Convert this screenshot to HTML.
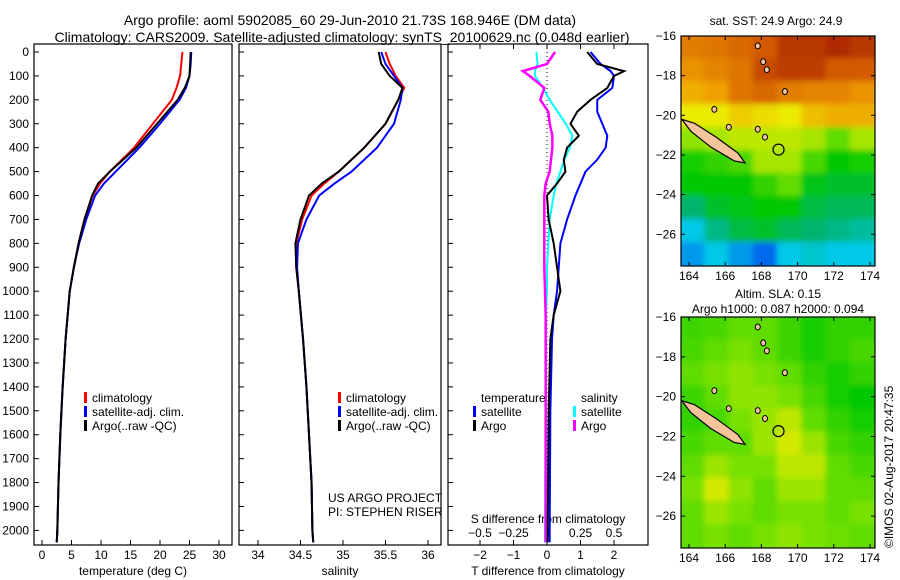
<!DOCTYPE html>
<html><head><meta charset="utf-8"><style>
body{margin:0;background:#fff;}
svg{display:block;font-family:"Liberation Sans",sans-serif;}
text{font-size:12px;fill:#000;}
</style></head><body>
<svg id="chart" width="900" height="580" viewBox="0 0 900 580">
<defs><filter id="bl"><feGaussianBlur stdDeviation="3"/></filter>
<clipPath id="c1"><rect x="681" y="36" width="194" height="230"/></clipPath>
<clipPath id="c2"><rect x="681" y="317" width="194" height="231"/></clipPath></defs>
<text x="350" y="25" text-anchor="middle" style="font-size:14px">Argo profile: aoml 5902085_60 29-Jun-2010 21.73S 168.946E (DM data)</text>
<text x="342" y="42" text-anchor="middle" style="font-size:14px">Climatology: CARS2009. Satellite-adjusted climatology: synTS_20100629.nc (0.048d earlier)</text>
<g id="g"></g>
</svg>
<script>
const depths=[0,50,100,150,200,300,400,500,550,600,700,800,900,1000,1200,1400,1600,1800,2000,2050];
const climT=[23.8,23.6,23.4,22.8,22,18.8,15.6,11.5,9.8,8.6,7.2,6.2,5.4,4.7,4.0,3.5,3.1,2.8,2.6,2.5];
const satT=[25.3,25.2,25,24.4,23.3,20,16.5,12.5,10.5,9,7.5,6.3,5.4,4.7,4.0,3.5,3.1,2.8,2.6,2.5];
const argoT=[25.2,25.1,25,24.2,23,19.5,16,11.5,9.5,8.5,7.2,6.2,5.4,4.7,4.0,3.5,3.1,2.8,2.6,2.5];
const climS=[35.5,35.55,35.62,35.72,35.65,35.5,35.25,34.95,34.78,34.63,34.52,34.45,34.45,34.48,34.53,34.57,34.6,34.63,34.64,34.65];
const satS=[35.45,35.5,35.6,35.7,35.68,35.6,35.4,35.1,34.9,34.72,34.57,34.47,34.46,34.48,34.53,34.57,34.6,34.63,34.64,34.65];
const argoS=[35.42,35.45,35.55,35.7,35.65,35.5,35.25,34.95,34.75,34.6,34.5,34.44,34.45,34.48,34.53,34.57,34.6,34.63,34.64,34.65];
const dDepths=[0,50,80,100,150,200,250,300,350,400,450,500,550,600,700,800,900,1000,1100,1200,1500,2000,2050];
const argoTd=[1.2,1.5,2.3,2.0,1.8,1.3,0.9,0.7,0.95,0.6,0.5,0.55,0.3,0,0.05,0.2,0.3,0.4,0.2,0.1,0.05,0.02,0.02];
const satTd=[1.3,1.6,1.9,2.0,1.95,1.5,1.5,1.65,1.8,1.75,1.5,1.15,1.0,0.85,0.6,0.4,0.35,0.3,0.2,0.15,0.1,0.08,0.08];
const argoSd=[0.06,0.0,-0.18,-0.13,-0.02,-0.05,0.01,0.02,0.04,0.04,0.03,0.02,-0.01,-0.02,-0.02,-0.02,-0.02,-0.015,-0.01,-0.01,-0.01,-0.01,-0.01];
const satSd=[-0.08,-0.07,-0.09,-0.09,-0.03,0.02,0.08,0.14,0.19,0.17,0.13,0.1,0.07,0.05,0.02,0.01,0.0,0.0,-0.01,-0.01,-0.01,-0.015,-0.015];
const tTicks=[0,5,10,15,20,25,30];
const sTicks=[34,34.5,35,35.5,36];
const tdTicks=[-2,-1,0,1,2];
const sdTicks=[-0.5,-0.25,0,0.25,0.5];
const sdLabels=["−0.5","−0.25","0","0.25","0.5"];
const latTicks=[-16,-18,-20,-22,-24,-26];
const lonTicks=[164,166,168,170,172,174];
const sstGrid=[
[.85,.86,.88,.9,.95,.95,.97,.95],
[.82,.84,.86,.92,.94,.94,.9,.9],
[.78,.8,.86,.88,.85,.84,.84,.82],
[.7,.7,.74,.72,.7,.76,.78,.78],
[.62,.64,.66,.66,.66,.64,.58,.64],
[.52,.54,.56,.64,.64,.56,.5,.52],
[.5,.5,.5,.54,.58,.48,.46,.46],
[.4,.46,.48,.5,.5,.44,.42,.42],
[.3,.38,.44,.46,.42,.4,.38,.36],
[.22,.3,.22,.14,.3,.32,.3,.3]];
const slaGrid=[
[.55,.56,.58,.58,.55,.52,.54,.54],
[.56,.58,.6,.58,.55,.52,.54,.56],
[.58,.6,.62,.6,.58,.54,.52,.54],
[.55,.58,.62,.62,.6,.56,.52,.5],
[.54,.56,.6,.63,.66,.58,.54,.52],
[.56,.58,.58,.63,.68,.63,.56,.54],
[.58,.63,.6,.6,.66,.66,.58,.56],
[.6,.68,.62,.58,.63,.63,.58,.58],
[.58,.63,.6,.58,.6,.6,.58,.6],
[.58,.6,.58,.6,.62,.6,.59,.58]];

const NS='http://www.w3.org/2000/svg';const G=document.getElementById('g');
function mk(t,a,p){const e=document.createElementNS(NS,t);for(const k in a)e.setAttribute(k,a[k]);(p||G).appendChild(e);return e;}
const yD=d=>52+d*0.2392;
const xT=v=>42+v*5.9, xS=v=>258+(v-34)*85, xTd=v=>547+v*33.5, xSd=v=>547+v*134;
const panels=[[34,232],[239,441],[448,648]];
panels.forEach((p,i)=>{const r=mk('rect',{x:p[0],y:44,width:p[1]-p[0],height:501,fill:'none',stroke:'#000','stroke-width':1.2});

for(let d=0;d<=2000;d+=100){mk('line',{x1:p[0],x2:p[0]+5,y1:yD(d),y2:yD(d),stroke:'#000'});}});
for(let d=0;d<=2000;d+=100){const t=mk('text',{x:29,y:yD(d)+4,'text-anchor':'end'});t.textContent=d;
}
function xt(vals,fx,labels,y){vals.forEach((v,i)=>{mk('line',{x1:fx(v),x2:fx(v),y1:545,y2:540,stroke:'#000'});
const t=mk('text',{x:fx(v),y:y,'text-anchor':'middle'});t.textContent=labels?labels[i]:v;});}
xt(tTicks,xT,null,559);xt(sTicks,xS,null,559);xt(tdTicks,xTd,tdTicks.map(v=>v<0?'−'+(-v):v),559);
sdTicks.forEach((v,i)=>{mk('line',{x1:xSd(v),x2:xSd(v),y1:44,y2:49,stroke:'#000'});const t=mk('text',{x:xSd(v),y:537,'text-anchor':'middle'});t.textContent=sdLabels[i];});
function lab(x,y,s,n,anc){const t=mk('text',{x:x,y:y,'text-anchor':anc||'middle'});t.textContent=s;return t;}
lab(133,575,'temperature (deg C)','x-axis-title-temperature');lab(340,575,'salinity','x-axis-title-salinity');
lab(548,575,'T difference from climatology','x-axis-title-t-diff');lab(548,523,'S difference from climatology','x-axis-title-s-diff');
lab(328,502,'US ARGO PROJECT','pi-project','start');lab(328,516,'PI: STEPHEN RISER','pi-name','start');
mk('line',{x1:547,x2:547,y1:44,y2:545,stroke:'#000','stroke-dasharray':'1,3'});
function line(xs,ys,fx,col,w,name){const pts=xs.map((v,i)=>fx(v)+','+yD(ys[i])).join(' ');const e=mk('polyline',{points:pts,fill:'none',stroke:col,'stroke-width':w});
}
line(climT,depths,xT,'#f00',2,'temp-climatology-line');line(satT,depths,xT,'#00f',2,'temp-satellite-line');line(argoT,depths,xT,'#000',2,'temp-argo-line');
line(climS,depths,xS,'#f00',2,'sal-climatology-line');line(satS,depths,xS,'#00f',2,'sal-satellite-line');line(argoS,depths,xS,'#000',2,'sal-argo-line');
line(satSd,dDepths,xSd,'#0ff',2,'sdiff-satellite-line');line(argoSd,dDepths,xSd,'#f0f',2.5,'sdiff-argo-line');
line(satTd,dDepths,xTd,'#00f',2,'tdiff-satellite-line');line(argoTd,dDepths,xTd,'#000',2,'tdiff-argo-line');
function leg(x,y,col,s,n){mk('rect',{x:x,y:y-10,width:3,height:11,fill:col});lab(x+8,y,s,n,'start');}
[[84,'climatology','#f00'],[84,'satellite-adj. clim.','#00f'],[84,'Argo(..raw -QC)','#000']].forEach((e,i)=>leg(e[0],402+i*14,e[2],e[1],'legend-entry'));
[[338,'climatology','#f00'],[338,'satellite-adj. clim.','#00f'],[338,'Argo(..raw -QC)','#000']].forEach((e,i)=>leg(e[0],402+i*14,e[2],e[1],'legend-entry'));
lab(481,402,'temperature','legend-title-temperature','start');lab(581,402,'salinity','legend-title-salinity','start');
leg(473,416,'#00f','satellite','legend-entry');leg(473,430,'#000','Argo','legend-entry');
leg(573,416,'#0ff','satellite','legend-entry');leg(573,430,'#f0f','Argo','legend-entry');
const cmapStops=[[0,[0,40,180]],[0.15,[0,110,240]],[0.3,[0,200,230]],[0.4,[0,180,110]],[0.5,[0,200,0]],[0.6,[120,225,0]],[0.7,[235,235,0]],[0.8,[240,160,0]],[0.9,[210,90,0]],[1,[160,20,0]]];
function cmap(v){v=Math.max(0,Math.min(1,v));for(let i=1;i<cmapStops.length;i++){if(v<=cmapStops[i][0]){const a=cmapStops[i-1],b=cmapStops[i],f=(v-a[0])/(b[0]-a[0]);return 'rgb('+a[1].map((c,k)=>Math.round(c+(b[1][k]-c)*f)).join(',')+')';}}return 'rgb(160,20,0)';}
function map(grid,y0,h,clip,name){const x0=681,w=194;const gr=mk('g',{'clip-path':'url(#'+clip+')'});
const inner=mk('g',{filter:'url(#bl)'},gr);const cw=w/grid[0].length,ch=h/grid.length;
grid.forEach((row,r)=>row.forEach((v,c)=>{mk('rect',{x:x0+c*cw-(c==0?10:1),y:y0+r*ch-(r==0?10:1),width:cw+(c==0||c==row.length-1?11:2),height:ch+(r==0||r==grid.length-1?11:2),fill:cmap(v)},inner);}));
const lat=l=>y0+(-16-l)*h/11.6, lon=l=>689+(l-164)*18.1;
mk('path',{d:`M${lon(163.6)},${lat(-20.2)} L${lon(164.3)},${lat(-20.4)} L${lon(165.5)},${lat(-21.1)} L${lon(166.7)},${lat(-21.9)} L${lon(167.1)},${lat(-22.4)} L${lon(166.5)},${lat(-22.3)} L${lon(165.2)},${lat(-21.6)} L${lon(164.1)},${lat(-20.8)} Z`,fill:'#f5c49a',stroke:'#000','stroke-width':1.2},gr);
[[167.8,-16.5],[168.1,-17.3],[168.3,-17.7],[169.3,-18.8],[168.2,-21.1],[167.8,-20.7],[165.4,-19.7],[166.2,-20.6]].forEach(p=>mk('ellipse',{cx:lon(p[0]),cy:lat(p[1]),rx:2.5,ry:3,fill:'#f5c49a',stroke:'#000'},gr));
const c=mk('circle',{cx:lon(168.946),cy:lat(-21.73),r:5.5,fill:'none',stroke:'#000','stroke-width':1.2});
mk('rect',{x:x0,y:y0,width:w,height:h,fill:'none',stroke:'#000','stroke-width':1.2});
latTicks.forEach(l=>{mk('line',{x1:x0,x2:x0+4,y1:lat(l),y2:lat(l),stroke:'#000'});mk('line',{x1:x0+w,x2:x0+w-4,y1:lat(l),y2:lat(l),stroke:'#000'});lab(x0-5,lat(l)+4,'−'+(-l),'lat-tick-label','end');});
lonTicks.forEach(l=>{mk('line',{x1:lon(l),x2:lon(l),y1:y0+h,y2:y0+h-4,stroke:'#000'});mk('line',{x1:lon(l),x2:lon(l),y1:y0,y2:y0+4,stroke:'#000'});lab(lon(l),y0+h+14,l,'lon-tick-label');});}
map(sstGrid,36,230,'c1','sst-map');map(slaGrid,317,231,'c2','sla-map');
lab(776,25,'sat. SST: 24.9 Argo: 24.9','sst-map-title');lab(778,298,'Altim. SLA: 0.15','sla-map-title');lab(778,313,'Argo h1000: 0.087 h2000: 0.094','sla-map-subtitle');
const cr=lab(0,0,'©IMOS 02-Aug-2017 20:47:35','credit');cr.setAttribute('transform','translate(893,548) rotate(-90)');cr.setAttribute('text-anchor','start');
</script>
</body></html>
